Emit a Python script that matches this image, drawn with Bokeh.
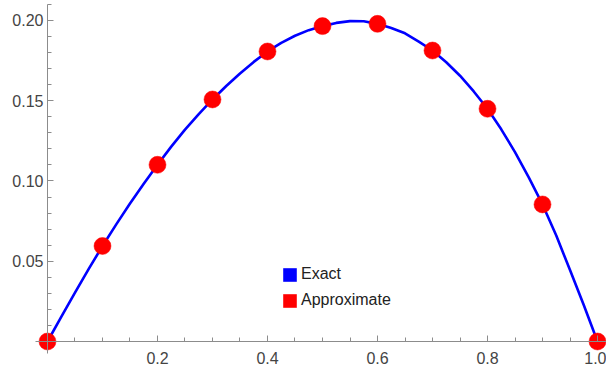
from bokeh.plotting import figure
from bokeh.models import (Range1d, FixedTicker, NumeralTickFormatter, Legend, LegendItem,
                          ColumnDataSource)
from bokeh.embed import file_html
from bokeh.resources import INLINE

# Exact solution curve
exact_x = [0.0, 0.025, 0.05, 0.075, 0.1, 0.125, 0.15, 0.175, 0.2, 0.225, 0.25, 0.275,
           0.3, 0.325, 0.35, 0.375, 0.4, 0.425, 0.45, 0.475, 0.5, 0.525, 0.55, 0.575,
           0.6, 0.625, 0.65, 0.675, 0.7, 0.725, 0.75, 0.775, 0.8, 0.825, 0.85, 0.875,
           0.9, 0.925, 0.95, 0.975, 1.0]
exact_y = [0.0, 0.0154, 0.0305, 0.0452, 0.0595, 0.0730, 0.0860, 0.0983, 0.1101, 0.1214,
           0.1320, 0.1417, 0.1508, 0.1592, 0.1670, 0.1742, 0.1807, 0.1861, 0.1905, 0.1940,
           0.1965, 0.1985, 0.1996, 0.1995, 0.1979, 0.1953, 0.1920, 0.1868, 0.1813, 0.1740,
           0.1656, 0.1558, 0.1450, 0.1322, 0.1180, 0.1022, 0.0854, 0.0660, 0.0445, 0.0228,
           0.0]

# Approximate solution points
approx_x = [0.0, 0.1, 0.2, 0.3, 0.4, 0.5, 0.6, 0.7, 0.8, 0.9, 1.0]
approx_y = [0.0, 0.0595, 0.1101, 0.1508, 0.1807, 0.1965, 0.1979, 0.1813, 0.1450, 0.0854, 0.0]

x_major = [0.2, 0.4, 0.6, 0.8, 1.0]
x_minor = [0.05, 0.1, 0.15, 0.25, 0.3, 0.35, 0.45, 0.5, 0.55, 0.65, 0.7, 0.75, 0.85, 0.9, 0.95]
y_major = [0.05, 0.10, 0.15, 0.20]
y_minor = [0.01, 0.02, 0.03, 0.04, 0.06, 0.07, 0.08, 0.09, 0.11, 0.12, 0.13, 0.14,
           0.16, 0.17, 0.18, 0.19, 0.21]

legend_labels = ["Exact", "Approximate"]

W, H = 606, 369
p = figure(width=W, height=H, output_backend="svg", toolbar_location=None,
           x_range=Range1d(-0.08545, 1.01636), y_range=Range1d(-0.01745, 0.21246),
           min_border_left=0, min_border_right=0, min_border_top=0, min_border_bottom=0)
p.outline_line_color = None
p.grid.visible = False
p.background_fill_color = "white"
p.border_fill_color = "white"

FONT = "Liberation Sans"
for ax, ticks, minors, fmt, bounds in [
        (p.xaxis[0], x_major, x_minor, "0.0", (-0.022, 1.0164)),
        (p.yaxis[0], y_major, y_minor, "0.00", (-0.0075, 0.2102))]:
    ax.fixed_location = 0
    ax.ticker = FixedTicker(ticks=ticks, minor_ticks=minors)
    ax.formatter = NumeralTickFormatter(format=fmt)
    ax.bounds = bounds
    ax.axis_line_color = "#8c8c8c"
    ax.major_tick_line_color = "#8c8c8c"
    ax.minor_tick_line_color = "#8c8c8c"
    ax.major_tick_in = 6
    ax.major_tick_out = 0
    ax.minor_tick_in = 4
    ax.minor_tick_out = 0
    ax.major_label_text_font = FONT
    ax.major_label_text_font_size = "16px"
    ax.major_label_text_color = "#444444"

p.xaxis[0].major_label_standoff = 11
p.yaxis[0].major_label_standoff = 4

src_e = ColumnDataSource(dict(x=exact_x, y=exact_y))
src_a = ColumnDataSource(dict(x=approx_x, y=approx_y))
p.line("x", "y", source=src_e, line_color="#0000ff", line_width=2.6, line_join="round")
p.scatter("x", "y", source=src_a, size=17, fill_color="#ff0000", line_color="#ff0000",
          line_width=0.5)

# legend proxies (square swatches): zero-size quads anchored at the first data point
anchor = ColumnDataSource(dict(left=approx_x[:1], right=approx_x[:1],
                               top=approx_y[:1], bottom=approx_y[:1]))
r1 = p.quad(left="left", right="right", top="top", bottom="bottom", source=anchor,
            fill_color="#0000ff", line_color=None)
r2 = p.quad(left="left", right="right", top="top", bottom="bottom", source=anchor,
            fill_color="#ff0000", line_color=None)
legend = Legend(items=[LegendItem(label=legend_labels[0], renderers=[r1]),
                       LegendItem(label=legend_labels[1], renderers=[r2])],
                location=(281, 59), padding=0, margin=0, spacing=6,
                glyph_width=17, glyph_height=17, label_height=20, label_standoff=3,
                label_text_font=FONT, label_text_font_size="16px",
                label_text_color="#222222",
                border_line_alpha=0, background_fill_alpha=0)
p.add_layout(legend)

open("out.html", "w").write(file_html(p, INLINE))
